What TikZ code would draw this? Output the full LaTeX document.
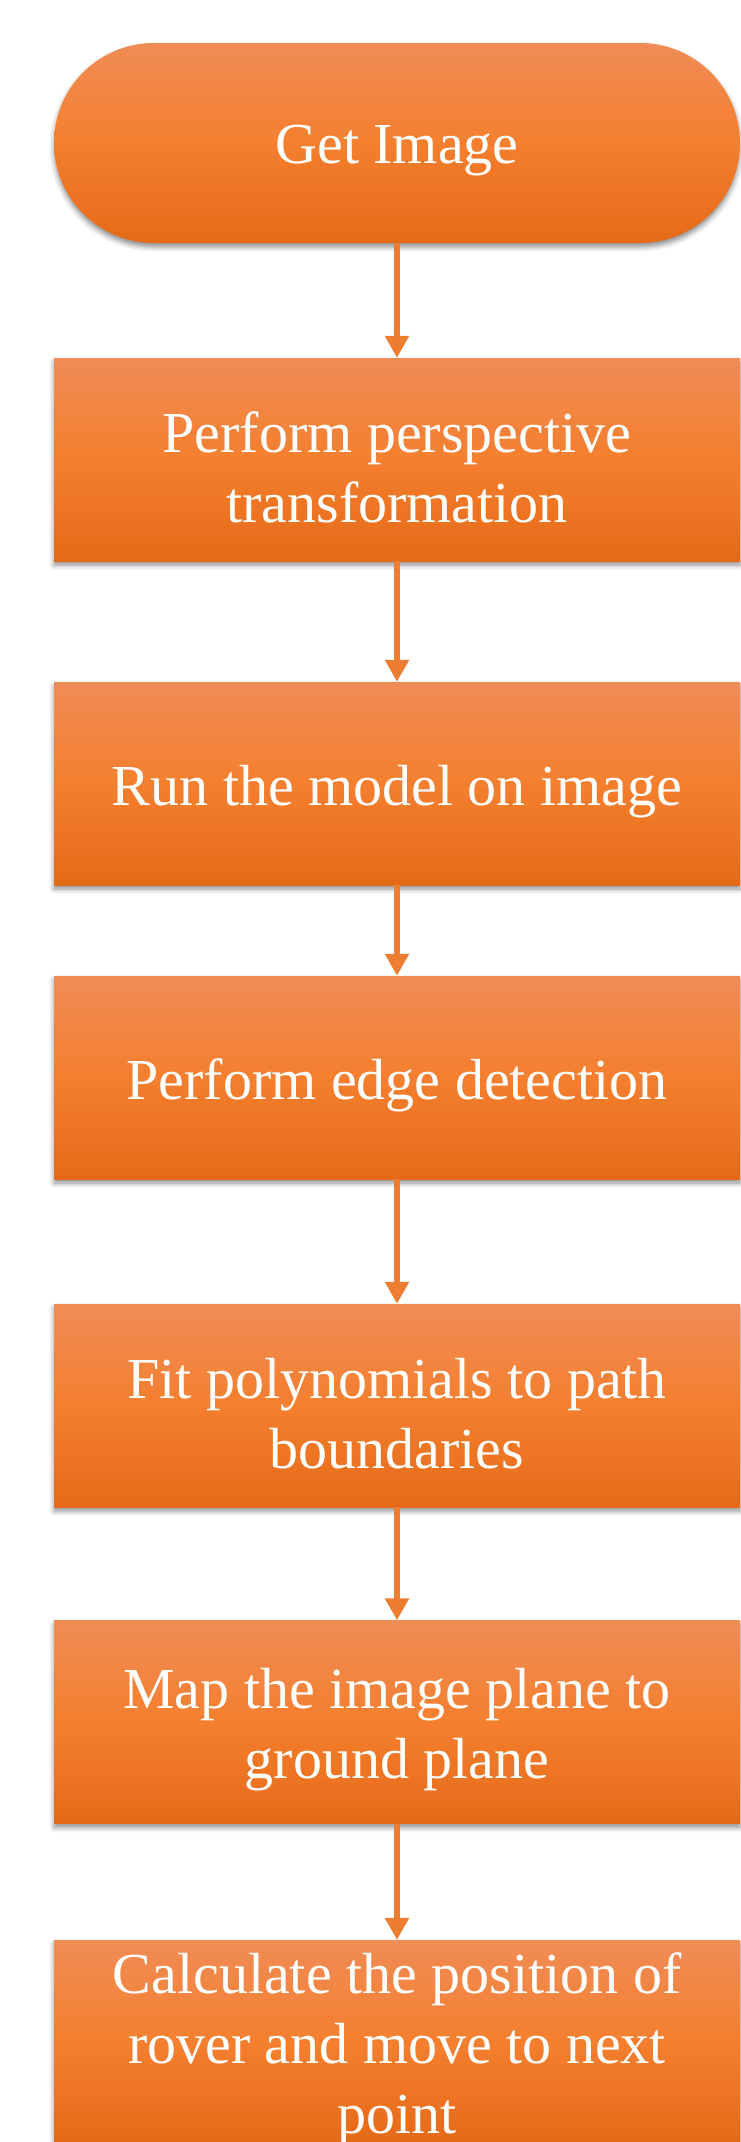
\documentclass[tikz,border=0pt]{standalone}
\usepackage{fontspec}
\setmainfont{Liberation Serif}
\usetikzlibrary{arrows.meta,shadows.blur}

\begin{document}
\begin{tikzpicture}[x=1pt,y=1pt]
	\definecolor{boxtop}{RGB}{240,140,86}
	\definecolor{boxmid}{RGB}{244,127,46}
	\definecolor{boxbottom}{RGB}{229,106,24}
	\definecolor{flowline}{RGB}{237,125,49}

	\tikzset{
		steptext/.style={text=white, align=center, inner sep=0pt, yshift=-8pt, font=\fontsize{58}{70}\selectfont},
		stepbox/.style={rectangle, minimum width=686pt, minimum height=203pt, inner sep=0pt,
			top color=boxtop, bottom color=boxbottom, middle color=boxmid,
			blur shadow={shadow xshift=0pt, shadow yshift=-4pt, shadow blur radius=5pt, shadow opacity=45},
			label={[steptext]center:#1}},
		startbox/.style={stepbox=#1, rounded corners=100pt, minimum height=200pt},
		flow/.style={draw=flowline, line width=6pt, -{Triangle[width=23pt,length=22pt]}},
	}

	\useasboundingbox (0,0) rectangle (740,-2142);

	\node[startbox={Get Image}] (getimg) at (397,-143) {};
	\node[stepbox={Perform perspective\\transformation}] (persp) at (397,-459.5) {};
	\node[stepbox={Run the model on image}] (model) at (397,-783.5) {};
	\node[stepbox={Perform edge detection}] (edge) at (397,-1077.5) {};
	\node[stepbox={Fit polynomials to path\\boundaries}] (poly) at (397,-1405.5) {};
	\node[stepbox={Map the image plane to\\ground plane}] (ground) at (397,-1722) {};
	\node[stepbox={Calculate the position of\\rover and move to next\\point}] (rover) at (397,-2041.5) {};

	\draw[flow] (getimg) -- (persp);
	\draw[flow] (persp) -- (model);
	\draw[flow] (model) -- (edge);
	\draw[flow] (edge) -- (poly);
	\draw[flow] (poly) -- (ground);
	\draw[flow] (ground) -- (rover);
\end{tikzpicture}
\end{document}
